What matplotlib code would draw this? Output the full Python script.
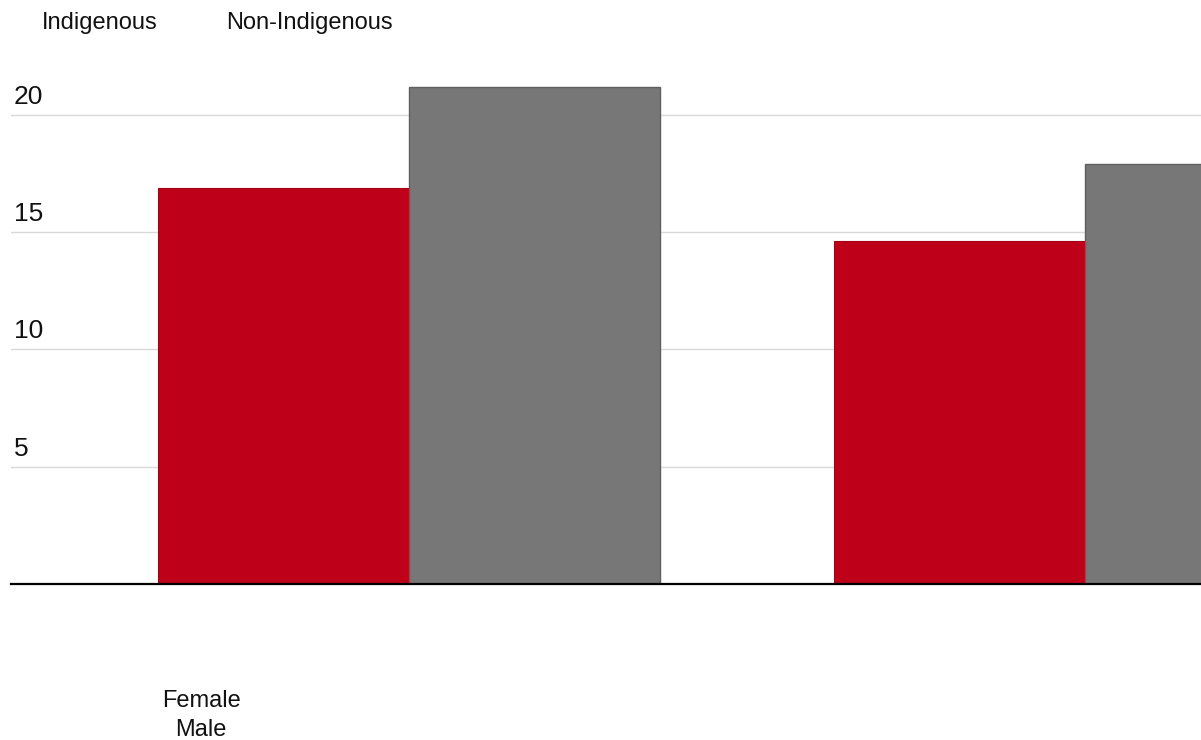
import numpy as np
import matplotlib.pyplot as plt
from matplotlib.transforms import blended_transform_factory

categories = ["Female", "Male"]
series_names = ["Indigenous", "Non-Indigenous"]
indigenous = [16.9, 14.6]
non_indigenous = [21.2, 17.9]
y_ticks = [5, 10, 15, 20]

plt.rcParams['font.family'] = ['Liberation Sans', 'DejaVu Sans']

W, H = 1201, 740
fig = plt.figure(figsize=(W / 100, H / 100), dpi=100)

# axes placed in pixel terms: left edge at x=11, baseline at y=584
left_px, base_px, top_px = 11, 584, 60
ax = fig.add_axes([left_px / W, 1 - base_px / H, 1 - left_px / W, (base_px - top_px) / H])

unit = 676.0  # pixels per category
x0 = -(408.5 - left_px) / unit
ax.set_xlim(x0, x0 + (W - left_px) / unit)
px_per_val = 23.46
ax.set_ylim(0, (base_px - top_px) / px_per_val)

x = np.arange(len(categories))
bw = 251 / unit
ax.bar(x - bw / 2, indigenous, width=bw, color="#be0019", edgecolor="#a50016",
       linewidth=0.8, zorder=3)
ax.bar(x + bw / 2, non_indigenous, width=bw, color="#777777", edgecolor="#5f5f5f",
       linewidth=1.0, zorder=3)

trans = blended_transform_factory(ax.transAxes, ax.transData)
for t in y_ticks:
    ax.axhline(t, color="#d9d9d9", linewidth=1.0, zorder=1)
    ax.annotate(str(t), xy=(3 / (W - left_px), t), xycoords=trans,
                xytext=(0, 8), textcoords="offset points",
                ha="left", va="baseline", fontsize=19, color="#111111")
ax.axhline(0, color="black", linewidth=1.6, zorder=4, clip_on=False)

for s in ax.spines.values():
    s.set_visible(False)
ax.set_xticks([])
ax.set_yticks([])

# legend-like labels at the top, no swatches
fig.text(42 / W, 1 - 29 / H, series_names[0], fontsize=17, ha="left", va="baseline", color="#111111")
fig.text(226 / W, 1 - 29 / H, series_names[1], fontsize=17, ha="left", va="baseline", color="#111111")

# category labels stacked under the first group
fig.text(201 / W, 1 - 707 / H, categories[0], fontsize=17, ha="center", va="baseline", color="#111111")
fig.text(201 / W, 1 - 736 / H, categories[1], fontsize=17, ha="center", va="baseline", color="#111111")

fig.savefig("out.png", dpi=100)
